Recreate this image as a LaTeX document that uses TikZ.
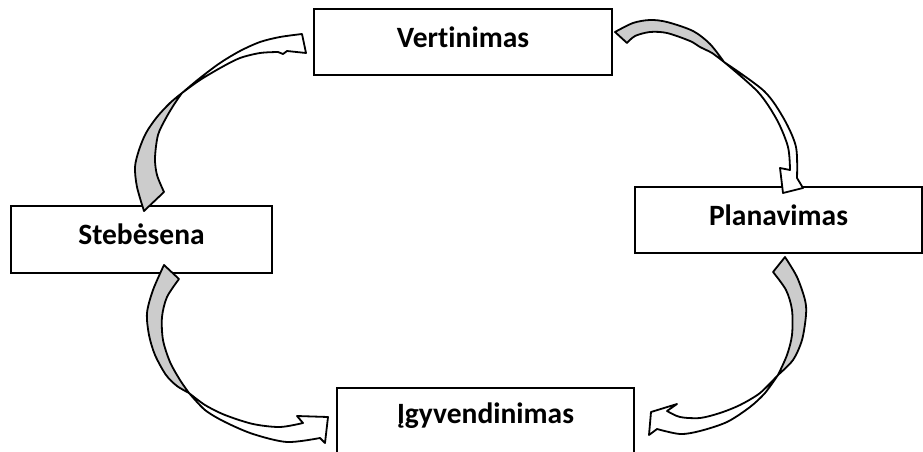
\documentclass[tikz,border=0pt]{standalone}
\usepackage{fontspec}
\setmainfont{Carlito}[Ligatures=NoCommon]
\usepackage{tikz}

\begin{document}
\begin{tikzpicture}[x=1pt,y=-1pt,
    box/.style={draw,line width=1.8pt,fill=white,inner xsep=0pt,inner ysep=0pt,anchor=base,
      font=\fontsize{29.5}{35}\selectfont\bfseries},
    back/.style={draw,fill=gray!40,line width=1.8pt,line join=round},
    front/.style={draw,fill=white,line width=1.8pt,line join=round}]
		\useasboundingbox (0,0) rectangle (923,452);
		\node[box,minimum width=298pt,text height=39pt,text depth=27pt] (vert) at (463,48) {Vertinimas};
		\node[box,minimum width=287pt,text height=38pt,text depth=28pt] (plan) at (778.5,225) {Planavimas};
		\node[box,minimum width=261pt,text height=38pt,text depth=29pt] (steb) at (141.5,244) {Stebėsena};
		\node[box,minimum width=297pt,text height=35pt,text depth=38pt] (igyv) at (485.5,423) {Įgyvendinimas};
		\filldraw[back] plot[smooth] coordinates {(615,32) (633,23) (650,20) (667,22) (693,31) (710,44) (724,62)}
			-- plot[smooth] coordinates {(724,62) (712,53) (700,47) (690,41) (667,33) (650,32) (635,36) (627,43)} -- cycle;
		\filldraw[front] plot[smooth] coordinates {(724,62) (758,92) (777,120) (788,147) (790,170)}
			-- (780,168) -- (783,193) -- (803,188) -- (797,178)
			-- plot[smooth] coordinates {(797,178) (796,147) (784,119) (764,91) (724,62)} -- cycle;
		\filldraw[back] plot[smooth] coordinates {(785,257) (797,277) (805,300) (806,315) (802,340) (793,360) (778,375)}
			-- plot[smooth] coordinates {(778,375) (787,355) (792,335) (792,310) (786,290) (773,272)} -- cycle;
		\filldraw[front] plot[smooth] coordinates {(778,375) (760,393) (740,405) (720,413) (700,418) (680,417) (667,411)}
			-- (677,404) -- (651,412) -- (649,435) -- (657,429)
			-- plot[smooth] coordinates {(657,429) (680,434) (700,431) (727,422) (750,407) (765,393) (778,375)} -- cycle;
		\filldraw[back] plot[smooth] coordinates {(164,265) (153,290) (147,313) (149,335) (155,355) (166,375) (177,386) (189,393)}
			-- plot[smooth] coordinates {(189,393) (180,380) (170,362) (163,340) (162,317) (167,297) (179,279)} -- cycle;
		\filldraw[front] plot[smooth] coordinates {(189,393) (205,405) (225,415) (253,424) (280,427) (303,423)}
			-- (297,416) -- (328,417) -- (325,443) -- (320,438)
			-- plot[smooth] coordinates {(320,438) (287,442) (253,434) (225,422) (205,410) (189,393)} -- cycle;
		\filldraw[back] plot[smooth] coordinates {(144,211) (137,187) (135,167) (139,150) (146,133) (157,117) (170,103) (182,93)}
			-- plot[smooth] coordinates {(182,93) (175,103) (166,118) (158,135) (155,158) (157,175) (164,192)} -- cycle;
		\filldraw[front] plot[smooth] coordinates {(182,93) (200,78) (220,63) (240,51) (260,42) (280,37) (302,34)}
			-- (306,53) -- (287,51) -- (283,54)
			-- plot[smooth] coordinates {(278,52) (260,53) (240,58) (222,67) (200,80) (182,93)} -- cycle;
	\end{tikzpicture}
\end{document}
